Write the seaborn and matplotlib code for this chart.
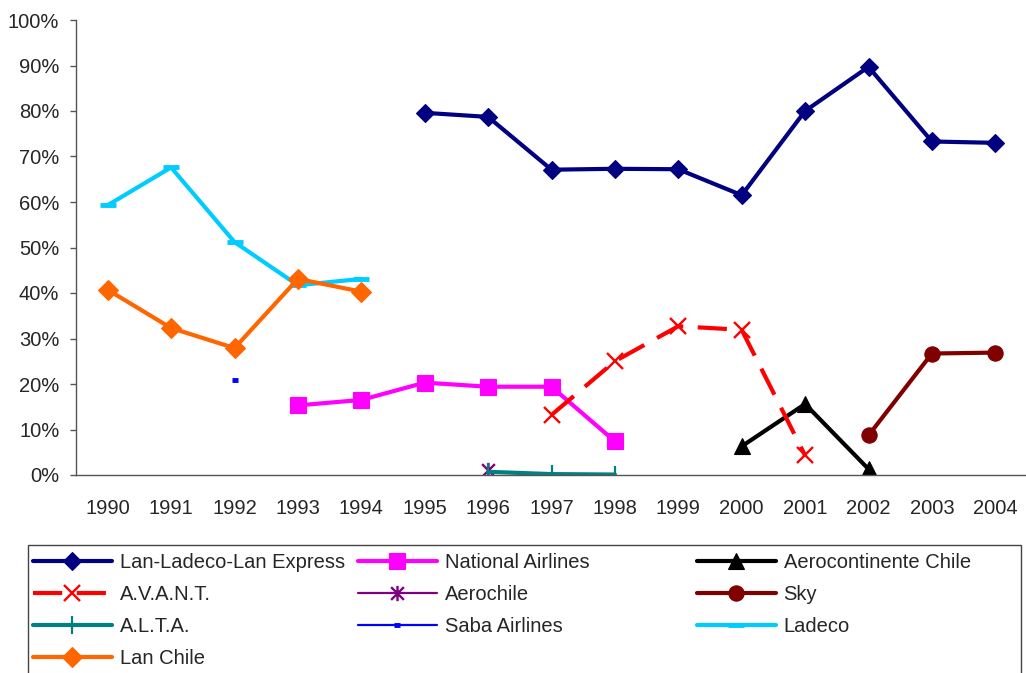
import matplotlib
matplotlib.use("Agg")
import matplotlib.pyplot as plt
import matplotlib.patches as mpatches
from matplotlib.path import Path
import numpy as np
import pandas as pd
import seaborn as sns

# market share per airline, by year (NaN = no data)
years = list(range(1990, 2005))
nan = np.nan
lan_ladeco = [nan, nan, nan, nan, nan, 79.6, 78.7, 67.1, 67.3, 67.2, 61.5, 80.0, 89.7, 73.3, 73.0]
national = [nan, nan, nan, 15.3, 16.5, 20.3, 19.4, 19.4, 7.4, nan, nan, nan, nan, nan, nan]
aerocontinente = [nan] * 10 + [6.3, 15.6, 1.3, nan, nan]
avant = [nan] * 7 + [13.2, 25.0, 32.7, 31.9, 4.3, nan, nan, nan]
aerochile = [nan] * 6 + [1.1] + [nan] * 8
sky = [nan] * 12 + [8.7, 26.7, 26.9]
alta = [nan] * 6 + [0.7, 0.2, 0.1] + [nan] * 6
saba = [nan, nan, 20.8] + [nan] * 12
ladeco = [59.3, 67.6, 51.2, 41.7, 43.1] + [nan] * 10
lan_chile = [40.7, 32.3, 27.9, 43.1, 40.3] + [nan] * 10

names = ["Lan-Ladeco-Lan Express", "National Airlines", "Aerocontinente Chile",
         "A.V.A.N.T.", "Aerochile", "Sky", "A.L.T.A.", "Saba Airlines",
         "Ladeco", "Lan Chile"]
series = [lan_ladeco, national, aerocontinente, avant, aerochile, sky, alta, saba, ladeco, lan_chile]

# excel style star: an X with a vertical stroke
star = Path([(-1, -1), (1, 1), (-1, 1), (1, -1), (0, -1.2), (0, 1.2)],
            [Path.MOVETO, Path.LINETO, Path.MOVETO, Path.LINETO, Path.MOVETO, Path.LINETO])

styles = {
    "Lan-Ladeco-Lan Express": dict(color="#000080", marker="D", ms=9, lw=3),
    "National Airlines": dict(color="#FF00FF", marker="s", ms=12, lw=3),
    "Aerocontinente Chile": dict(color="#000000", marker="^", ms=11, lw=3),
    "A.V.A.N.T.": dict(color="#FF0000", marker="x", ms=11, lw=3, mew=1.7),
    "Aerochile": dict(color="#800080", marker=star, ms=11, lw=1.6, mew=1.7),
    "Sky": dict(color="#800000", marker="o", ms=11, lw=3),
    "A.L.T.A.": dict(color="#008080", marker="|", ms=13, lw=3, mew=1.6),
    "Saba Airlines": dict(color="#0000FF", marker="_", ms=5, lw=1.6, mew=3.5),
    "Ladeco": dict(color="#00CCFF", marker="_", ms=12, lw=3, mew=3.5),
    "Lan Chile": dict(color="#FF6600", marker="D", ms=10.5, lw=3),
}

rows = []
for name, vals in zip(names, series):
    for y, v in zip(years, vals):
        if not np.isnan(v):
            rows.append({"airline": name, "year": y, "share": v / 100})
df = pd.DataFrame(rows)

sns.set_style("white")
plt.rcParams["font.family"] = ["Liberation Sans", "DejaVu Sans"]
plt.rcParams["font.size"] = 14.5

fig = plt.figure(figsize=(10.26, 6.73), dpi=100)
ax = fig.add_axes([76 / 1026, 1 - 475 / 673, 951 / 1026, 455 / 673])

handles = {}
for name in names:
    st = styles[name]
    sub = df[df.airline == name]
    sns.lineplot(data=sub, x="year", y="share", ax=ax, estimator=None, sort=False,
                 color=st["color"], marker=st["marker"], markersize=st["ms"],
                 linewidth=st["lw"], markeredgewidth=st.get("mew", 0.8),
                 markeredgecolor=st["color"], label=name, legend=False)
    line = ax.lines[-1]
    if name == "A.V.A.N.T.":
        line.set_dashes((7, 3.5))
    handles[name] = line

ax.set_xlim(1989.5, 2004.5)
ax.set_ylim(0, 1)
ax.set_xlabel("")
ax.set_ylabel("")
ax.set_xticks(years)
ax.set_xticklabels([str(y) for y in years])
ax.set_xticks(np.arange(1989.5, 2005, 1), minor=True)
ax.tick_params(axis="x", which="major", length=0, pad=17, labelsize=14.5)
ax.tick_params(axis="x", which="minor", length=4, width=1, color="#555555", direction="out")
ax.set_yticks(np.arange(0, 1.01, 0.1))
ax.set_yticklabels([f"{int(round(v * 100))}%" for v in np.arange(0, 1.01, 0.1)])
ax.tick_params(axis="y", length=4, width=1, color="#555555", direction="out", pad=8, labelsize=14.5)
ax.tick_params(left=True, bottom=True)
for s in ["top", "right"]:
    ax.spines[s].set_visible(False)
for s in ["left", "bottom"]:
    ax.spines[s].set_color("#555555")
    ax.spines[s].set_linewidth(1)

# legend: three columns laid out like the spreadsheet legend
cols = [["Lan-Ladeco-Lan Express", "A.V.A.N.T.", "A.L.T.A.", "Lan Chile"],
        ["National Airlines", "Aerochile", "Saba Airlines"],
        ["Aerocontinente Chile", "Sky", "Ladeco"]]
col_x = [33, 358, 697]
for names_col, x0 in zip(cols, col_x):
    fig.legend([handles[n] for n in names_col], names_col, loc="upper left",
               bbox_to_anchor=(x0 / 1026, 1 - 553 / 673), frameon=False,
               borderaxespad=0, borderpad=0, handlelength=3.9,
               handletextpad=0.4, labelspacing=0.64, fontsize=14.5)

fig.patches.append(mpatches.Rectangle((28 / 1026, -0.05), (1021 - 28) / 1026, 1 - 545 / 673 + 0.05,
                                      transform=fig.transFigure, fill=False,
                                      edgecolor="#444444", linewidth=1))

fig.savefig("out.png", dpi=100)
